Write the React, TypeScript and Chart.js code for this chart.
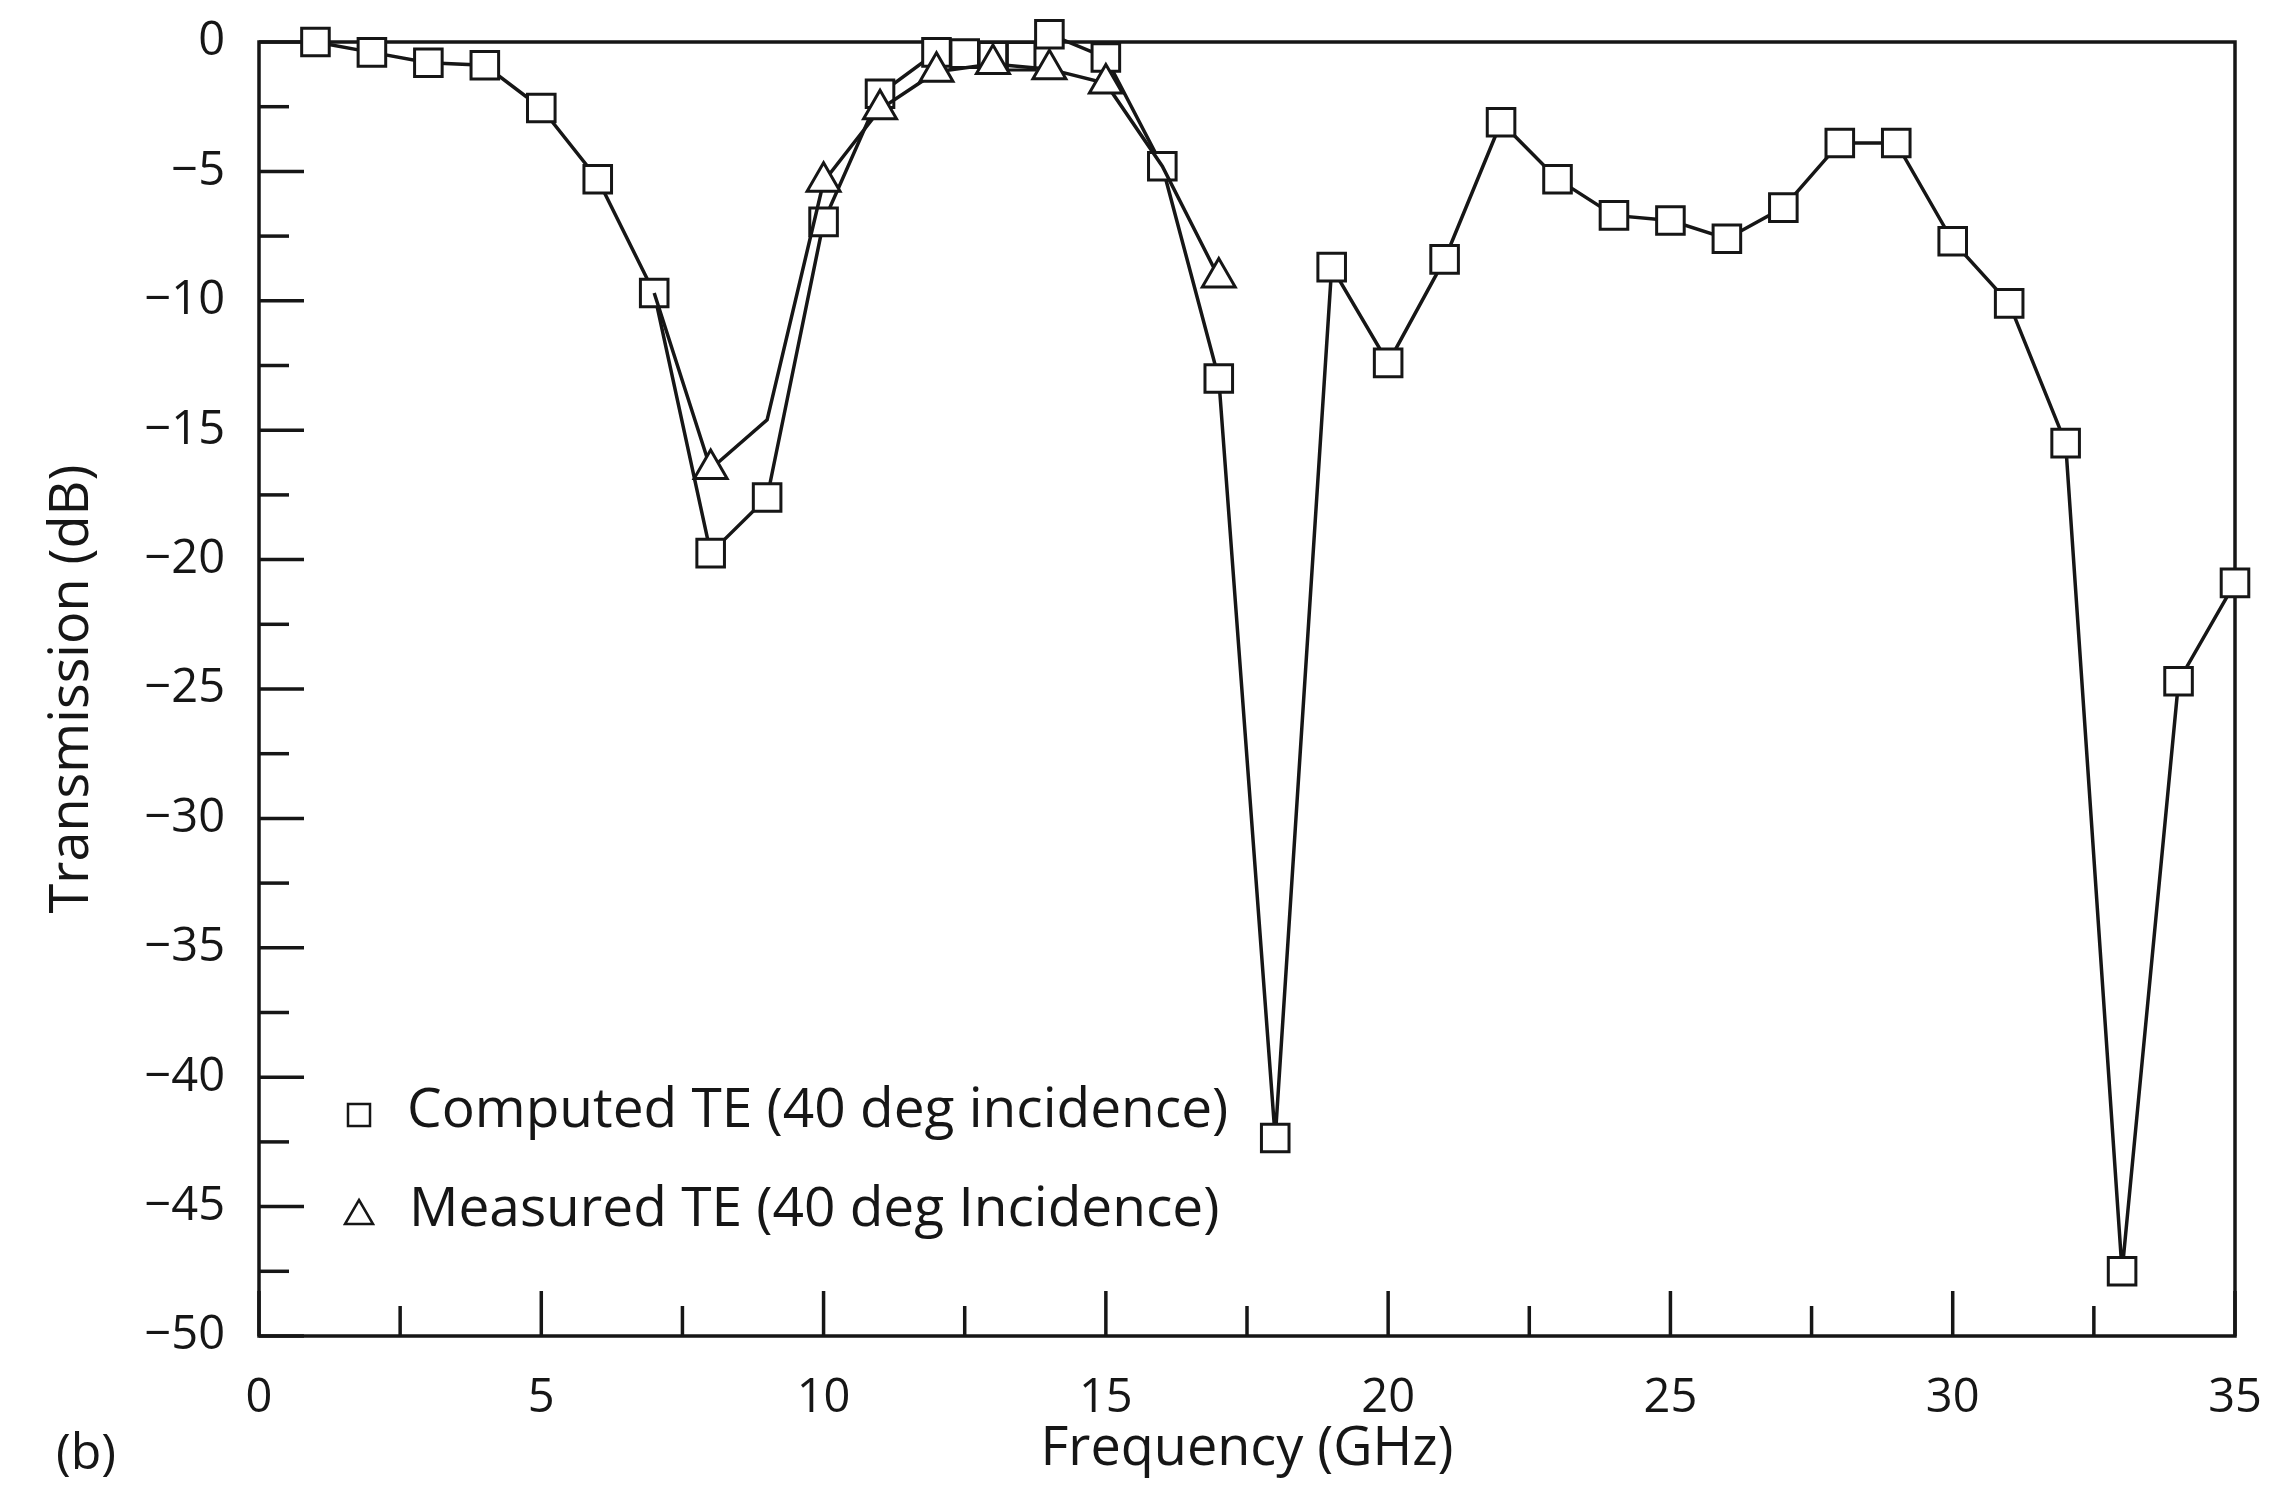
import React, { useEffect, useRef } from 'react';
import { Chart, registerables } from 'chart.js';

Chart.register(...registerables);

// ---- data ----
const COMPUTED_FREQ = [1, 2, 3, 4, 5, 6, 7, 8, 9, 10, 11, 12, 12.5, 13, 13.5, 14, 15, 16, 17, 18, 19, 20, 21, 22, 23, 24, 25, 26, 27, 28, 29, 30, 31, 32, 33, 34, 35];
const COMPUTED_DB = [0, -0.4, -0.8, -0.9, -2.55, -5.3, -9.7, -19.75, -17.6, -6.95, -2.0, -0.4, -0.45, -0.55, -0.55, 0.3, -0.6, -4.8, -13.0, -42.35, -8.7, -12.4, -8.4, -3.1, -5.3, -6.7, -6.9, -7.6, -6.4, -3.9, -3.9, -7.7, -10.1, -15.5, -47.5, -24.7, -20.9];

const MEASURED_FREQ = [7, 8, 9, 10, 11, 12, 13, 14, 15, 16, 17];
const MEASURED_DB = [-9.7, -16.5, -14.6, -5.4, -2.6, -1.15, -0.85, -1.05, -1.6, -4.8, -9.1];
// markers that are visible in the figure (others hidden under squares / absent)
const MEASURED_MARKER = [false, true, false, true, true, true, true, true, true, false, true];

const X_LABEL_TICKS = [0, 5, 10, 15, 20, 25, 30, 35];
const X_MINOR_TICKS = [2.5, 7.5, 12.5, 17.5, 22.5, 27.5, 32.5];
const Y_LABEL_TICKS = [0, -5, -10, -15, -20, -25, -30, -35, -40, -45, -50];
const Y_MINOR_TICKS = [-2.5, -7.5, -12.5, -17.5, -22.5, -27.5, -32.5, -37.5, -42.5, -47.5];

const SERIES_LABELS = ['Computed TE (40 deg incidence)', 'Measured TE (40 deg Incidence)'];
const X_TITLE = 'Frequency (GHz)';
const Y_TITLE = 'Transmission (dB)';
const PANEL_LABEL = '(b)';

const INK = '#161616';
const FONT = "'Open Sans', 'DejaVu Sans', sans-serif";

const fmt = (v: number) => (v < 0 ? '\u2212' + Math.abs(v) : String(v));

const zeroPad = (s: any) => {
  s.paddingLeft = 0;
  s.paddingRight = 0;
  s.paddingTop = 0;
  s.paddingBottom = 0;
};

const framePlugin = {
  id: 'frameTicks',
  beforeDatasetsDraw(chart: any) {
    const { ctx, chartArea: a, scales } = chart;
    ctx.save();
    ctx.strokeStyle = INK;
    ctx.lineWidth = 3.5;
    ctx.strokeRect(a.left, a.top, a.right - a.left, a.bottom - a.top);
    const xs = scales.x;
    const ys = scales.y;
    const drawX = (vals: number[], len: number) => {
      vals.forEach((v) => {
        const px = xs.getPixelForValue(v);
        ctx.beginPath();
        ctx.moveTo(px, a.bottom);
        ctx.lineTo(px, a.bottom - len);
        ctx.stroke();
      });
    };
    const drawY = (vals: number[], len: number) => {
      vals.forEach((v) => {
        const py = ys.getPixelForValue(v);
        ctx.beginPath();
        ctx.moveTo(a.left, py);
        ctx.lineTo(a.left + len, py);
        ctx.stroke();
      });
    };
    drawX(X_LABEL_TICKS, 45);
    drawX(X_MINOR_TICKS, 30);
    drawY(Y_LABEL_TICKS, 45);
    drawY(Y_MINOR_TICKS, 30);
    ctx.restore();
  },
};

const legendPlugin = {
  id: 'innerLegend',
  afterDraw(chart: any) {
    const { ctx, chartArea: a } = chart;
    ctx.save();
    ctx.strokeStyle = INK;
    ctx.fillStyle = INK;
    ctx.lineWidth = 2.5;
    ctx.font = `55px ${FONT}`;
    ctx.textBaseline = 'middle';
    ctx.textAlign = 'left';
    const mx = a.left + 100;
    const rows = [a.bottom - 221, a.bottom - 122];
    // square marker
    const s = 22;
    ctx.strokeRect(mx - s / 2, rows[0] - s / 2, s, s);
    // triangle marker
    const tw = 28;
    const th = 24;
    ctx.beginPath();
    ctx.moveTo(mx, rows[1] - th / 2 - 2);
    ctx.lineTo(mx + tw / 2, rows[1] + th / 2 - 2);
    ctx.lineTo(mx - tw / 2, rows[1] + th / 2 - 2);
    ctx.closePath();
    ctx.stroke();
    const labels = chart.data.datasets.map((d: any) => d.label);
    ctx.fillText(labels[1], mx + 48, rows[0] - 4);
    ctx.fillText(labels[0], mx + 50, rows[1] - 4);
    // panel label
    ctx.font = `50px ${FONT}`;
    ctx.fillText(PANEL_LABEL, 56, 1455);
    ctx.restore();
  },
};

export default function App() {
  const canvasRef = useRef<HTMLCanvasElement | null>(null);

  useEffect(() => {
    if (!canvasRef.current) return;
    Chart.defaults.font.family = FONT;
    const chart = new Chart(canvasRef.current, {
      type: 'line',
      data: {
        datasets: [
          {
            label: SERIES_LABELS[1],
            data: MEASURED_FREQ.map((f, i) => ({ x: f, y: MEASURED_DB[i] })),
            borderColor: INK,
            borderWidth: 3.5,
            pointStyle: 'triangle',
            pointRadius: MEASURED_MARKER.map((m) => (m ? 19 : 0)),
            pointBorderWidth: 3,
            pointBackgroundColor: '#ffffff',
            pointBorderColor: INK,
            tension: 0,
            clip: false,
            order: 1,
          },
          {
            label: SERIES_LABELS[0],
            data: COMPUTED_FREQ.map((f, i) => ({ x: f, y: COMPUTED_DB[i] })),
            borderColor: INK,
            borderWidth: 3.5,
            pointStyle: 'rect',
            pointRadius: 19.5,
            pointBorderWidth: 3,
            pointBackgroundColor: '#ffffff',
            pointBorderColor: INK,
            tension: 0,
            clip: false,
            order: 2,
          },
        ] as any,
      },
      options: {
        animation: false,
        responsive: true,
        maintainAspectRatio: false,
        layout: { padding: { top: 42, right: 38, left: 0, bottom: 0 } },
        plugins: {
          legend: { display: false },
          tooltip: { enabled: false },
        },
        scales: {
          x: {
            type: 'linear',
            min: 0,
            max: 35,
            grid: { display: false },
            border: { display: false },
            ticks: {
              font: { size: 47, lineHeight: 1.2 },
              color: INK,
              padding: 26,
              maxRotation: 0,
              autoSkip: false,
              callback: (v: any) => fmt(Number(v)),
            },
            afterBuildTicks: (s: any) => {
              s.ticks = X_LABEL_TICKS.map((v) => ({ value: v }));
            },
            afterFit: (s: any) => {
              s.height = 1485 - 1336;
              zeroPad(s);
            },
            title: {
              display: true,
              text: X_TITLE,
              color: INK,
              font: { size: 54, lineHeight: 1.2 },
              padding: { top: 0, bottom: 3 },
            },
          },
          y: {
            type: 'linear',
            min: -50,
            max: 0,
            grid: { display: false },
            border: { display: false },
            ticks: {
              font: { size: 47, lineHeight: 1.2 },
              color: INK,
              padding: 26,
              autoSkip: false,
              callback: (v: any) => fmt(Number(v)),
            },
            afterBuildTicks: (s: any) => {
              s.ticks = Y_LABEL_TICKS.map((v) => ({ value: v }));
            },
            afterFit: (s: any) => {
              s.width = 259;
              zeroPad(s);
            },
            title: {
              display: true,
              text: Y_TITLE,
              color: INK,
              font: { size: 54, lineHeight: 1.2 },
              padding: { top: 40, bottom: 0 },
            },
          },
        },
      } as any,
      plugins: [framePlugin, legendPlugin],
    });
    return () => chart.destroy();
  }, []);

  return (
    <div style={{ position: 'fixed', left: 0, top: 0, width: 2273, height: 1485, background: '#ffffff' }}>
      <canvas ref={canvasRef} />
    </div>
  );
}
